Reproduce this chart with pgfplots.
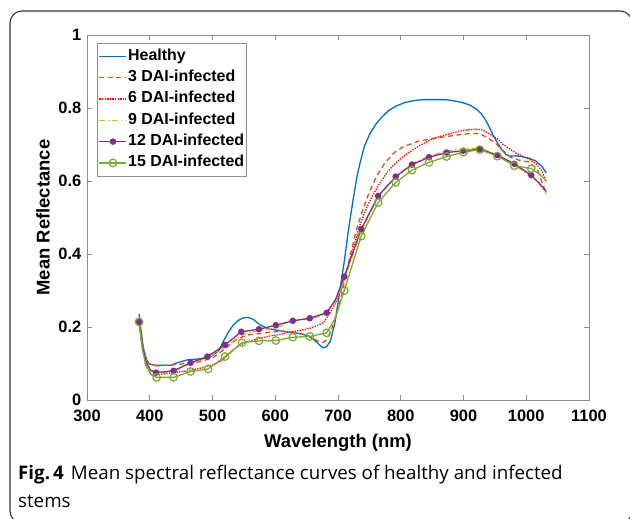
\documentclass[border=0pt]{standalone}
\usepackage{pgfplots}
\pgfplotsset{compat=1.18}
\usepackage{fontspec}
\setmainfont{Liberation Sans}
\newfontfamily\capfont{Open Sans}
\definecolor{mblue}{rgb}{0,0.447,0.741}
\definecolor{morange}{rgb}{0.85,0.325,0.098}
\definecolor{myellow}{rgb}{0.929,0.694,0.125}
\definecolor{mpurple}{rgb}{0.494,0.184,0.556}
\definecolor{mgreen}{rgb}{0.466,0.674,0.188}
\begin{document}
\begin{tikzpicture}
\useasboundingbox (0,0) rectangle (630bp,-519bp);
\draw[rounded corners=12bp, line width=1.1bp, black!80] (10bp,-11bp) rectangle (632bp,-523bp);
\begin{axis}[
  at={(87bp,-400bp)}, anchor=south west,
  scale only axis, width=502bp, height=365bp,
  xmin=300, xmax=1100, ymin=0, ymax=1,
  xtick={300,400,...,1100}, ytick={0,0.2,0.4,0.6,0.8,1},
  /pgf/number format/assume math mode=true,
  /pgf/number format/1000 sep={},
  tick label style={font=\bfseries\fontsize{16.5}{16.5}\selectfont},
  xticklabel style={inner sep=1bp, yshift=-9bp},
  yticklabel style={/pgf/number format/fixed, inner sep=1bp, xshift=-4.5bp},
  label style={font=\bfseries\fontsize{18.5}{18.5}\selectfont},
  xlabel={Wavelength (nm)}, ylabel={Mean Reflectance},
  xlabel style={at={(axis description cs:0.5,-0.1288)}, anchor=base},
  ylabel style={at={(axis description cs:-0.0745,0.5)}, anchor=base},
  axis line style={black!45, line width=0.8bp},
  every tick/.style={black!45, line width=0.8bp},
  major tick length=5bp, tick align=inside,
  legend cell align=left,
  legend style={at={(axis description cs:0.0199,0.978)}, anchor=north west,
    draw=black!45, line width=0.7bp, fill=white, inner xsep=1.5bp, inner ysep=3.5bp,
    font=\bfseries\fontsize{16}{16}\selectfont, row sep=2.3bp,
    nodes={inner xsep=1bp, inner ysep=2bp, text height=11.5bp, text depth=3.5bp}},
  legend image code/.code={\draw[#1, mark indices={2}] plot coordinates {(0bp,0bp) (13.5bp,0bp) (27bp,0bp)};},
  every axis plot/.append style={line width=1.3bp},
]
\addplot[mblue, no marks] coordinates {
(383,0.236)(386,0.19)(390,0.14)(395,0.11)(400,0.098)(410,0.095)(425,0.095)(435,0.095)(440,0.10)(450,0.105)(460,0.11)(475,0.112)(490,0.115)(500,0.122)(510,0.135)(517,0.16)(525,0.185)(533,0.205)(541,0.218)(549,0.225)(557,0.226)(565,0.221)(575,0.207)(585,0.198)(600,0.192)(618,0.187)(635,0.183)(650,0.177)(660,0.168)(668,0.155)(676,0.143)(682,0.146)(688,0.162)(695,0.21)(703,0.30)(710,0.38)(717,0.47)(724,0.548)(730,0.61)(735,0.648)(742,0.695)(751,0.73)(760,0.755)(770,0.775)(780,0.792)(792,0.805)(805,0.814)(820,0.82)(835,0.823)(850,0.823)(865,0.823)(875,0.822)(890,0.818)(900,0.814)(910,0.808)(920,0.798)(928,0.785)(935,0.768)(941,0.748)(947,0.726)(953,0.708)(961,0.686)(968,0.672)(975,0.668)(985,0.669)(995,0.666)(1005,0.662)(1015,0.655)(1025,0.64)(1032,0.622)};
\addlegendentry{Healthy}
\addplot[morange, no marks, dash pattern=on 5bp off 3.5bp] coordinates {
(383,0.22)(388,0.16)(393,0.12)(398,0.10)(405,0.095)(415,0.093)(425,0.095)(440,0.097)(460,0.10)(480,0.105)(500,0.115)(520,0.14)(540,0.168)(555,0.178)(575,0.182)(597,0.187)(620,0.188)(640,0.182)(650,0.178)(660,0.17)(669,0.16)(676,0.158)(682,0.164)(690,0.195)(698,0.238)(705,0.28)(712,0.34)(720,0.40)(730,0.47)(740,0.525)(750,0.57)(762,0.615)(775,0.65)(790,0.678)(805,0.695)(830,0.71)(850,0.716)(870,0.721)(890,0.726)(910,0.73)(925,0.73)(937,0.72)(950,0.705)(962,0.685)(975,0.665)(990,0.656)(1005,0.652)(1018,0.63)(1032,0.565)};
\addlegendentry{3 DAI-infected}
\addplot[red, no marks, dash pattern=on 1.3bp off 1.3bp] coordinates {
(383,0.215)(388,0.15)(393,0.10)(398,0.08)(404,0.068)(420,0.071)(438,0.075)(460,0.08)(480,0.087)(500,0.096)(512,0.105)(522,0.119)(535,0.14)(549,0.155)(562,0.163)(576,0.169)(590,0.175)(602,0.178)(615,0.183)(629,0.187)(642,0.192)(655,0.196)(668,0.205)(677,0.212)(687,0.238)(695,0.262)(705,0.30)(715,0.36)(725,0.42)(735,0.48)(745,0.525)(755,0.56)(765,0.59)(780,0.628)(795,0.655)(810,0.675)(830,0.697)(850,0.715)(870,0.726)(890,0.735)(905,0.74)(920,0.742)(930,0.74)(940,0.73)(953,0.717)(963,0.70)(972,0.69)(985,0.675)(995,0.668)(1006,0.658)(1015,0.648)(1024,0.63)(1032,0.598)};
\addlegendentry{6 DAI-infected}
\addplot[myellow, no marks, dash pattern=on 6bp off 2.5bp on 1.6bp off 2.5bp] coordinates {
(383,0.215)(388,0.15)(395,0.10)(402,0.08)(410,0.073)(438,0.08)(465,0.10)(492,0.115)(520,0.145)(546,0.178)(560,0.185)(575,0.19)(600,0.197)(612,0.205)(620,0.215)(640,0.22)(655,0.222)(682,0.235)(695,0.265)(710,0.33)(737,0.462)(764,0.556)(792,0.612)(818,0.648)(845,0.668)(873,0.682)(900,0.688)(926,0.69)(954,0.672)(981,0.645)(1008,0.61)(1020,0.595)(1032,0.565)};
\addlegendentry{9 DAI-infected}
\addplot[mpurple, mark=*, mark size=2.6bp, mark options={solid, fill=mpurple},
  mark indices={1,5,6,7,8,9,10,11,12,13,14,15,17,18,19,20,21,22,23,24,25,26,27,28}] coordinates {
(383,0.214)(388,0.15)(394,0.105)(401,0.082)(410,0.075)(438,0.080)(465,0.102)(492,0.119)(520,0.151)(546,0.187)(574,0.194)(601,0.205)(628,0.217)(655,0.224)(682,0.239)(696,0.275)(710,0.338)(737,0.468)(764,0.559)(792,0.612)(818,0.645)(845,0.665)(873,0.678)(900,0.683)(926,0.687)(954,0.671)(981,0.647)(1008,0.616)(1020,0.595)(1032,0.571)};
\addlegendentry{12 DAI-infected}
\addplot[mgreen, mark=o, mark size=3.8bp, mark options={solid, line width=1.2bp},
  mark indices={1,5,6,7,8,9,10,11,12,13,14,15,17,18,19,20,21,22,23,24,25,26,27,28}] coordinates {
(383,0.214)(388,0.14)(394,0.095)(402,0.07)(411,0.062)(438,0.062)(465,0.078)(493,0.085)(520,0.119)(547,0.157)(574,0.162)(601,0.163)(628,0.172)(655,0.174)(682,0.184)(696,0.225)(710,0.30)(737,0.449)(764,0.541)(792,0.596)(818,0.630)(845,0.651)(873,0.667)(900,0.679)(926,0.686)(954,0.668)(981,0.642)(1008,0.634)(1020,0.62)(1032,0.60)};
\addlegendentry{15 DAI-infected}
\end{axis}
\node[anchor=base west, inner sep=0, font=\capfont\fontsize{18.8}{22}\selectfont] at (18bp,-479bp) {\textbf{Fig.\,4}\hspace{7bp}Mean spectral reflectance curves of healthy and infected};
\node[anchor=base west, inner sep=0, font=\capfont\fontsize{18.8}{22}\selectfont] at (18bp,-507bp) {stems};
\end{tikzpicture}
\end{document}
